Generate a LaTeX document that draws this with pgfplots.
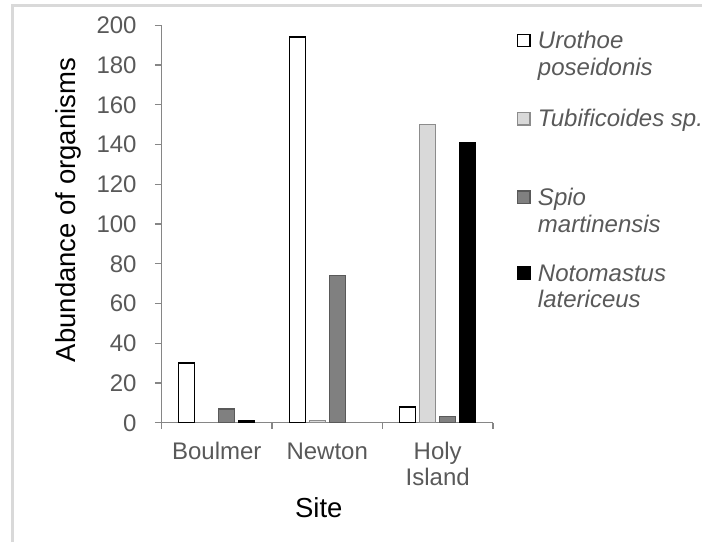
\documentclass[border=0pt]{standalone}
\usepackage{pgfplots}
\pgfplotsset{compat=1.18}
\usepackage{fontspec}
\setmainfont{Liberation Sans}
\definecolor{axisgray}{HTML}{868686}
\definecolor{textgray}{HTML}{595959}
\definecolor{framegray}{HTML}{D9D9D9}
\definecolor{tubi}{HTML}{D9D9D9}
\definecolor{tubiedge}{HTML}{8C8C8C}
\definecolor{spio}{HTML}{808080}
\definecolor{spioedge}{HTML}{595959}
\pgfplotsset{
  sqlegend/.style={legend image code/.code={\draw[##1] (0pt,0.9pt) rectangle (6.2pt,7.1pt); \path[draw=none,fill=none] (0pt,-#1) rectangle (0.01pt,9pt);}},
  spacer/.style={legend image code/.code={\path[draw=none,fill=none] (0pt,-#1) rectangle (0.01pt,9pt);}},
}
\begin{document}
\begin{tikzpicture}
\path[use as bounding box] (0,0) rectangle (351pt,-271pt);
\draw[framegray, line width=1.5pt] (6pt,-271pt) -- (6pt,-2.65pt) -- (351pt,-2.65pt);
\begin{axis}[
  at={(80.75pt,-211.375pt)}, anchor=south west,
  scale only axis, width=165.75pt, height=198.75pt,
  xmin=-0.5, xmax=2.5, ymin=0, ymax=200,
  axis lines*=left,
  axis line style={axisgray, line width=0.65pt},
  xtick={0,1,2},
  xticklabels={Boulmer,Newton,{\begin{tabular}[t]{@{}c@{}}Holy\\Island\end{tabular}}},
  minor xtick={-0.5,0.5,1.5,2.5},
  major x tick style={draw=none},
  minor tick length=3pt,
  ytick={0,20,...,200},
  major tick length=3.25pt,
  tick align=outside,
  tick style={axisgray, line width=0.65pt},
  tick label style={font=\fontsize{12}{13}\selectfont, text=textgray},
  /pgf/number format/assume math mode=true,
  yticklabel style={anchor=east, inner sep=0pt, xshift=-9pt},
  xticklabel style={anchor=base, inner sep=0pt, yshift=-14.9pt},
  xlabel={Site},
  ylabel={Abundance of organisms},
  xlabel style={at={(axis description cs:0.4745,-0.2379)}, anchor=base, inner sep=0pt, font=\fontsize{13.75}{15}\selectfont, text=black},
  ylabel style={at={(axis description cs:-0.2594,0.5352)}, anchor=base, inner sep=0pt, font=\fontsize{13.75}{15}\selectfont, text=black},
  legend style={at={(axis description cs:1.0724,0.98679)}, anchor=north west, draw=none, fill=none,
    inner sep=0pt, outer sep=0pt, row sep=0pt, column sep=3.6pt,
    font=\fontsize{12}{13.35}\selectfont\itshape, text=textgray,
    cells={anchor=base west}, nodes={inner sep=0pt}},
]
\addplot[ybar, bar width=8pt, bar shift=-15pt, fill=white, draw=black, line width=0.7pt, sqlegend=4.6pt]
  coordinates {(0,30) (1,194) (2,8)};
\addlegendentry{Urothoe}
\addlegendimage{spacer=16.5pt}
\addlegendentry{poseidonis}
\addplot[ybar, bar width=8pt, bar shift=-5pt, fill=tubi, draw=tubiedge, line width=0.7pt, sqlegend=30.3pt]
  coordinates {(1,1) (2,150)};
\addlegendentry{Tubificoides sp.}
\addplot[ybar, bar width=8pt, bar shift=5pt, fill=spio, draw=spioedge, line width=0.7pt, sqlegend=4.35pt]
  coordinates {(0,7) (1,74) (2,3)};
\addlegendentry{Spio}
\addlegendimage{spacer=15.5pt}
\addlegendentry{martinensis}
\addplot[ybar, bar width=8pt, bar shift=15pt, fill=black, draw=black, line width=0.7pt, sqlegend=4.3pt]
  coordinates {(0,1) (2,141)};
\addlegendentry{Notomastus}
\addlegendimage{spacer=3pt}
\addlegendentry{latericeus}
\end{axis}
\end{tikzpicture}
\end{document}
